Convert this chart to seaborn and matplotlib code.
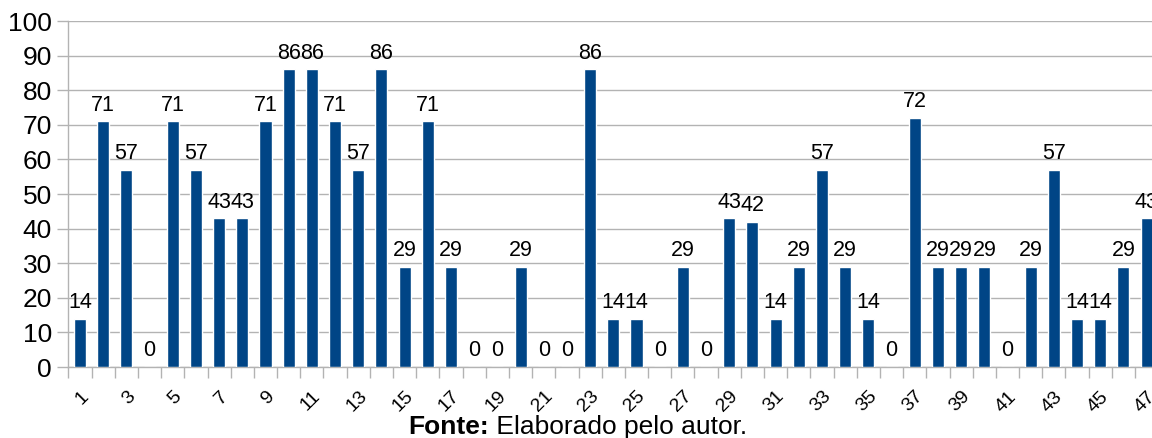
import matplotlib
matplotlib.use("Agg")
import matplotlib.pyplot as plt
import seaborn as sns
import numpy as np

# Questions 1..47 and the percentage of correct answers for each
questions = [str(i) for i in range(1, 48)]
percent = [14, 71, 57, 0, 71, 57, 43, 43, 71, 86,
           86, 71, 57, 86, 29, 71, 29, 0, 0, 29,
           0, 0, 86, 14, 14, 0, 29, 0, 43, 42,
           14, 29, 57, 29, 14, 0, 72, 29, 29, 29,
           0, 29, 57, 14, 14, 29, 43]
y_ticks = list(range(0, 101, 10))
caption_bold = "Fonte:"
caption_rest = " Elaborado pelo autor."

sns.set_theme(style="white")
plt.rcParams["font.family"] = ["Liberation Sans", "DejaVu Sans"]
plt.rcParams["text.color"] = "black"
plt.rcParams["xtick.labelcolor"] = "black"
plt.rcParams["ytick.labelcolor"] = "black"

fig = plt.figure(figsize=(11.52, 4.38), dpi=100)
ax = fig.add_axes([0.0594, 0.162, 0.946, 0.790])

sns.barplot(x=questions, y=percent, color="#004586", saturation=1,
            width=0.52, ax=ax, zorder=3)

ax.set_ylim(0, 100)
ax.set_xlim(-0.5, len(questions) - 0.5)
ax.set_yticks(y_ticks)
ax.tick_params(axis="y", labelsize=19, length=8, width=1, color="#b3b3b3",
               left=True, pad=4, labelcolor="black")
ax.yaxis.grid(True, color="#b3b3b3", linewidth=1, zorder=0)
ax.set_axisbelow(True)

# Category labels on every other question, tick marks between categories
idx = np.arange(len(questions))
ax.set_xticks(idx[::2])
ax.set_xticklabels([questions[i] for i in idx[::2]], rotation=45,
                   ha="right", rotation_mode="anchor", fontsize=14,
                   color="black")
ax.tick_params(axis="x", which="major", length=0, pad=15)
ax.set_xticks(np.arange(-0.5, len(questions), 1), minor=True)
ax.tick_params(axis="x", which="minor", length=8, width=1, color="#b3b3b3",
               bottom=True)

for side in ("top", "right"):
    ax.spines[side].set_visible(False)
for side in ("left", "bottom"):
    ax.spines[side].set_color("#b3b3b3")
    ax.spines[side].set_linewidth(1)

ax.set_xlabel("")
ax.set_ylabel("")

for c in ax.containers:
    ax.bar_label(c, labels=[f"{v:g}" for v in percent], padding=4,
                 fontsize=15.5, color="black")

fig.text(0.4245, -0.003, caption_bold, fontsize=19, fontweight="bold",
         ha="right", va="bottom", color="black")
fig.text(0.4245, -0.003, caption_rest, fontsize=19, ha="left", va="bottom",
         color="black")

fig.savefig("out.png", dpi=100)
